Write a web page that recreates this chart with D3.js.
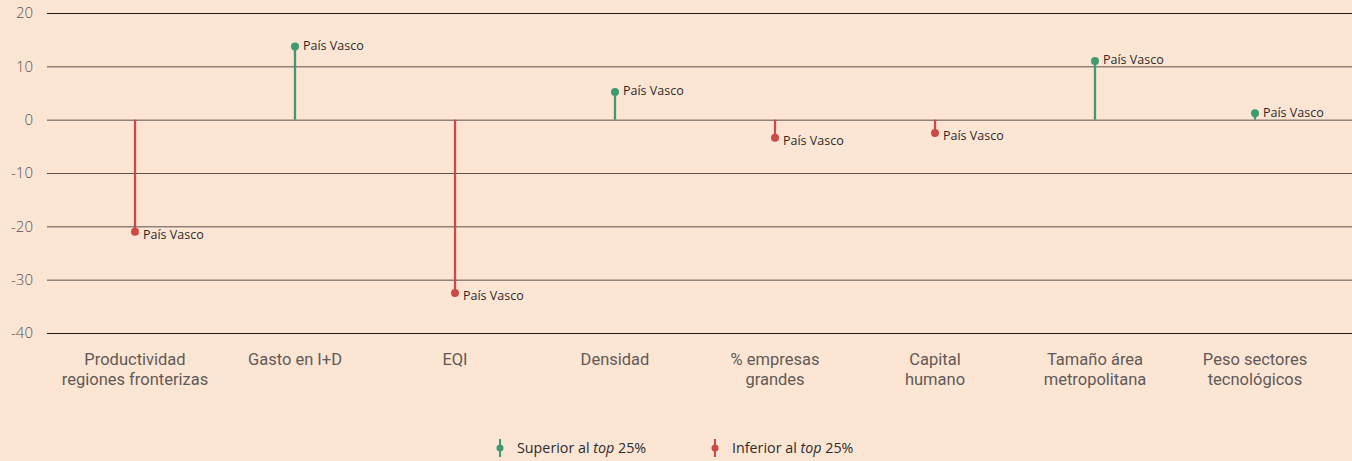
<!DOCTYPE html>
<html>
<head>
<meta charset="utf-8">
<script src="https://cdn.jsdelivr.net/npm/d3@7"></script>
<style>
  body { margin: 0; background: #fde5d4; }
  svg { display: block; }
</style>
</head>
<body>
<div id="chart"></div>
<script>
// data
var categories = [
  ["Productividad", "regiones fronterizas"],
  ["Gasto en I+D"],
  ["EQI"],
  ["Densidad"],
  ["% empresas", "grandes"],
  ["Capital", "humano"],
  ["Tamaño área", "metropolitana"],
  ["Peso sectores", "tecnológicos"]
];
var values = [-21.0, 13.7, -32.5, 5.2, -3.4, -2.5, 11.0, 1.2];
var pointLabel = "País Vasco";
var yTicks = [20, 10, 0, -10, -20, -30, -40];
var legendItems = ["Superior al ", "Inferior al "];

var green = "#3d9b6f";
var red = "#cc4a43";

var width = 1352;
var height = 461;

var svg = d3.select("#chart")
  .append("svg")
  .attr("width", width)
  .attr("height", height);

// scales
var x = d3.scaleBand()
  .domain(d3.range(categories.length))
  .range([55, 1335]);

var y = d3.scaleLinear()
  .domain([-40, 20])
  .range([333, 13]);

// horizontal grid lines
svg.append("g")
  .selectAll("line")
  .data(yTicks)
  .join("line")
  .attr("x1", 47)
  .attr("x2", width)
  .attr("y1", function(d) { return y(d) + 0.5; })
  .attr("y2", function(d) { return y(d) + 0.5; })
  .attr("stroke", function(d) { return (d == 20 || d == -40) ? "#1e1a18" : "#58514d"; })
  .attr("stroke-width", 1);

// y tick labels
svg.append("g")
  .selectAll("text")
  .data(yTicks)
  .join("text")
  .attr("x", 33)
  .attr("y", function(d) { return y(d); })
  .attr("dy", "0.35em")
  .attr("text-anchor", "end")
  .attr("font-family", "'Open Sans', sans-serif")
  .attr("font-size", 15)
  .attr("font-weight", 300)
  .attr("fill", "#555")
  .text(function(d) { return d; });

// category labels under the chart
var catLabel = svg.append("g")
  .selectAll("text")
  .data(categories)
  .join("text")
  .attr("x", function(d, i) { return x(i) + x.bandwidth() / 2; })
  .attr("y", 365)
  .attr("text-anchor", "middle")
  .attr("font-family", "'Liberation Sans Narrow', 'Roboto', sans-serif")
  .attr("font-size", 16.5)
  .attr("fill", "#5f5a57");

catLabel.selectAll("tspan")
  .data(function(d) { return d; })
  .join("tspan")
  .attr("x", function() { return d3.select(this.parentNode).attr("x"); })
  .attr("dy", function(d, j) { return j == 0 ? 0 : 20; })
  .text(function(d) { return d; });

// lollipops
var pts = svg.append("g")
  .selectAll("g")
  .data(values)
  .join("g")
  .attr("transform", function(d, i) { return "translate(" + (x(i) + x.bandwidth() / 2) + ",0)"; });

pts.append("line")
  .attr("y1", y(0))
  .attr("y2", function(d) { return y(d); })
  .attr("stroke", function(d) { return d >= 0 ? green : red; })
  .attr("stroke-width", 2.3);

pts.append("circle")
  .attr("cy", function(d) { return y(d); })
  .attr("r", 4)
  .attr("fill", function(d) { return d >= 0 ? green : red; });

pts.append("text")
  .attr("x", 8)
  .attr("y", function(d) { return y(d) + (d >= 0 ? -1 : 3); })
  .attr("dy", "0.35em")
  .attr("font-family", "'Open Sans', sans-serif")
  .attr("font-size", 12.5)
  .attr("font-weight", 500)
  .attr("fill", "#2b2b2b")
  .text(pointLabel);

// legend
var legend = svg.append("g")
  .selectAll("g")
  .data(legendItems)
  .join("g")
  .attr("transform", function(d, i) { return "translate(" + (500 + i * 215) + ",448)"; });

legend.append("line")
  .attr("y1", -9)
  .attr("y2", 9)
  .attr("stroke", function(d, i) { return i == 0 ? green : red; })
  .attr("stroke-width", 2);

legend.append("circle")
  .attr("r", 3.5)
  .attr("fill", function(d, i) { return i == 0 ? green : red; });

var legText = legend.append("text")
  .attr("x", 17)
  .attr("dy", "0.35em")
  .attr("font-family", "'Open Sans', sans-serif")
  .attr("font-size", 14.3)
  .attr("fill", "#2b2b2b");

legText.append("tspan").text(function(d) { return d; });
legText.append("tspan").attr("font-style", "italic").text("top");
legText.append("tspan").text(" 25%");
</script>
</body>
</html>
